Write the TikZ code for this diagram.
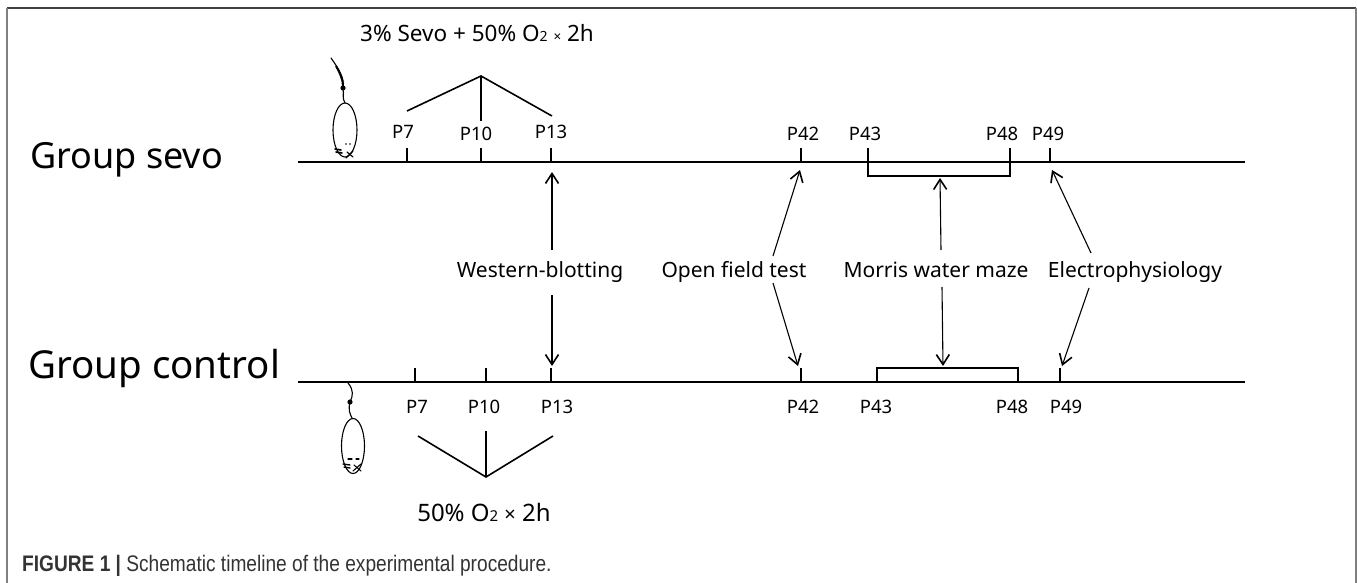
\documentclass[tikz,border=0pt]{standalone}
\usepackage{fontspec}
\setmainfont{Noto Sans}
\newfontfamily\capfont[FakeStretch=0.85]{Liberation Sans}
\usetikzlibrary{arrows.meta}
\begin{document}
\begin{tikzpicture}[x=1pt,y=-1pt,
  tl/.style={line width=1.6pt},
  arr/.style={line width=1.1pt,-{Straight Barb[length=10pt,width=13pt,line width=1.6pt]}},
  plab/.style={font=\fontsize{18.5}{20}\selectfont, anchor=base, inner sep=0pt},
  mlab/.style={font=\fontsize{21}{24}\selectfont, anchor=base, inner sep=0pt},
  glab/.style={anchor=base west, inner sep=0pt},
  mouse/.style={line width=1.1pt, line cap=round},
  framel/.style={line width=1.4pt}]
\useasboundingbox (0,0) rectangle (1357,583);
% frame
\draw[framel, black!75] (7,8) -- (1356,8);
\draw[framel, black!50] (7,8) -- (7,583);
\draw[framel, black!50] (1356,8) -- (1356,583);

% ---------------- upper timeline ----------------
\coordinate (uS) at (298,162);
\coordinate (uE) at (1245,162);
\draw[tl] (uS) -- (uE);
\foreach \x/\n in {407/u7,481/u10,551/u13,801/u42,1050/u49}{
  \coordinate (\n) at (\x,162);
  \draw[tl] (\n) -- ++(0,-14);
}
\coordinate (u43) at (868,148);
\coordinate (u48) at (1010,148);
\coordinate (uB) at (940,176);
\draw[tl] (u43) -- (868,176) -- (1010,176) -- (u48);
% upper triangle
\coordinate (apU) at (481,76);
\draw[tl] (407,111) -- (apU) -- (552,116);
\draw[tl] (apU) -- (481,121);

\node[glab, font=\fontsize{36}{40}\selectfont] (gs) at (30,168) {Group sevo};
\node[font=\fontsize{22.5}{25}\selectfont, anchor=base, inner sep=0pt] (sevo) at (477,42)
  {3\% Sevo + 50\% O{\fontsize{14}{15}\selectfont 2} {\fontsize{13.5}{14}\selectfont ×} 2h};
\node[plab] (pu7)  at (403,139) {P7};
\node[plab] (pu10) at (476,141) {P10};
\node[plab] (pu13) at (551,139) {P13};
\node[plab] (pu42) at (803,140) {P42};
\node[plab] (pu43) at (865,140) {P43};
\node[plab] (pu48) at (1002,140) {P48};
\node[plab] (pu49) at (1048,140) {P49};

% ---------------- lower timeline ----------------
\coordinate (lS) at (298,382);
\coordinate (lE) at (1245,382);
\draw[tl] (lS) -- (lE);
\foreach \x/\n in {415/l7,486/l10,551/l13,801/l42,1060/l49}{
  \coordinate (\n) at (\x,382);
  \draw[tl] (\n) -- ++(0,-14);
}
\coordinate (l43) at (877,382);
\coordinate (l48) at (1018,381);
\coordinate (lB) at (943,368);
\draw[tl] (l43) -- (877,368) -- (1018,368) -- (l48);
% lower triangle
\coordinate (apL) at (486,477);
\draw[tl] (418,436) -- (apL) -- (553,436);
\draw[tl] (apL) -- (486,431);

\node[glab, font=\fontsize{38.5}{42}\selectfont] (gc) at (28,378) {Group control};
\node[font=\fontsize{24}{26}\selectfont, anchor=base, inner sep=0pt] (o2) at (484,521)
  {50\% O{\fontsize{15}{16}\selectfont 2} {\fontsize{20}{22}\selectfont ×} 2h};
\node[plab] (pl7)  at (417,413) {P7};
\node[plab] (pl10) at (484,413) {P10};
\node[plab] (pl13) at (557,413) {P13};
\node[plab] (pl42) at (803,413) {P42};
\node[plab] (pl43) at (876,413) {P43};
\node[plab] (pl48) at (1012,413) {P48};
\node[plab] (pl49) at (1066,413) {P49};

% ---------------- middle labels and arrows ----------------
\node[mlab] (wb) at (540,277) {Western-blotting};
\node[mlab] (of) at (734,277) {Open field test};
\node[mlab] (mw) at (936,277) {Morris water maze};
\node[mlab] (ep) at (1135,277) {Electrophysiology};

\coordinate (wbU) at (552,250); \coordinate (wbUt) at (552,172);
\coordinate (wbL) at (552,295); \coordinate (wbLt) at (552,366);
\coordinate (ofU) at (773,256); \coordinate (ofUt) at (800,170);
\coordinate (ofL) at (773,283); \coordinate (ofLt) at (798,366);
\coordinate (mwU) at (941,250);
\coordinate (mwL) at (942,287);
\coordinate (epU) at (1091,253); \coordinate (epUt) at (1052,170);
\coordinate (epL) at (1089,288); \coordinate (epLt) at (1062,366);
\draw[arr] (wbU) -- (wbUt);
\draw[arr] (wbL) -- (wbLt);
\draw[arr] (ofU) -- (ofUt);
\draw[arr] (ofL) -- (ofLt);
\draw[arr] (mwU) -- (940,178);
\draw[arr] (mwL) -- (943,366);
\draw[arr] (epU) -- (epUt);
\draw[arr] (epL) -- (epLt);

% ---------------- mice ----------------
% upper mouse
\draw[mouse] (331,58) .. controls (338,68) and (345,78) .. (343,88);
\draw[line width=2pt] (336,66) .. controls (340,73) and (343,80) .. (343,86);
\fill (343,88) circle (2.6);
\draw[mouse] (343,88) .. controls (344,95) and (342,98) .. (345,103);
\draw[mouse] (345,130) ellipse [x radius=12, y radius=27];
\draw[mouse, line width=1.6pt] (335,149) -- (341,150);
\draw[mouse, line width=1.6pt] (336,152) -- (342,153);
\draw[mouse] (346,158) -- (353,151);
\draw[mouse] (347,152) -- (353,157);
\fill (346,144) circle (0.9);
\fill (350,144) circle (0.9);
% lower mouse
\draw[mouse] (348,383) .. controls (354,390) and (353,396) .. (350,402);
\fill (350,402) circle (2.6);
\draw[mouse] (350,402) .. controls (348,410) and (350,414) .. (352,418);
\draw[mouse] (353,446) ellipse [x radius=11.5, y radius=27.5];
\draw[mouse] (348,459) -- (352,459);
\draw[mouse] (356,459) -- (359,459);
\draw[mouse, line width=1.4pt] (343,464) -- (350,465);
\draw[mouse, line width=1.4pt] (344,467) -- (350,468);
\draw[mouse] (353,471) -- (361,464);
\draw[mouse] (354,465) -- (361,471);

% ---------------- caption ----------------
\node[anchor=base west, inner sep=0pt, text=black!80,
      font=\capfont\fontsize{22.5}{25}\selectfont] (cap) at (22,571)
  {\textbf{FIGURE 1 |} Schematic timeline of the experimental procedure.};
\end{tikzpicture}
\end{document}
